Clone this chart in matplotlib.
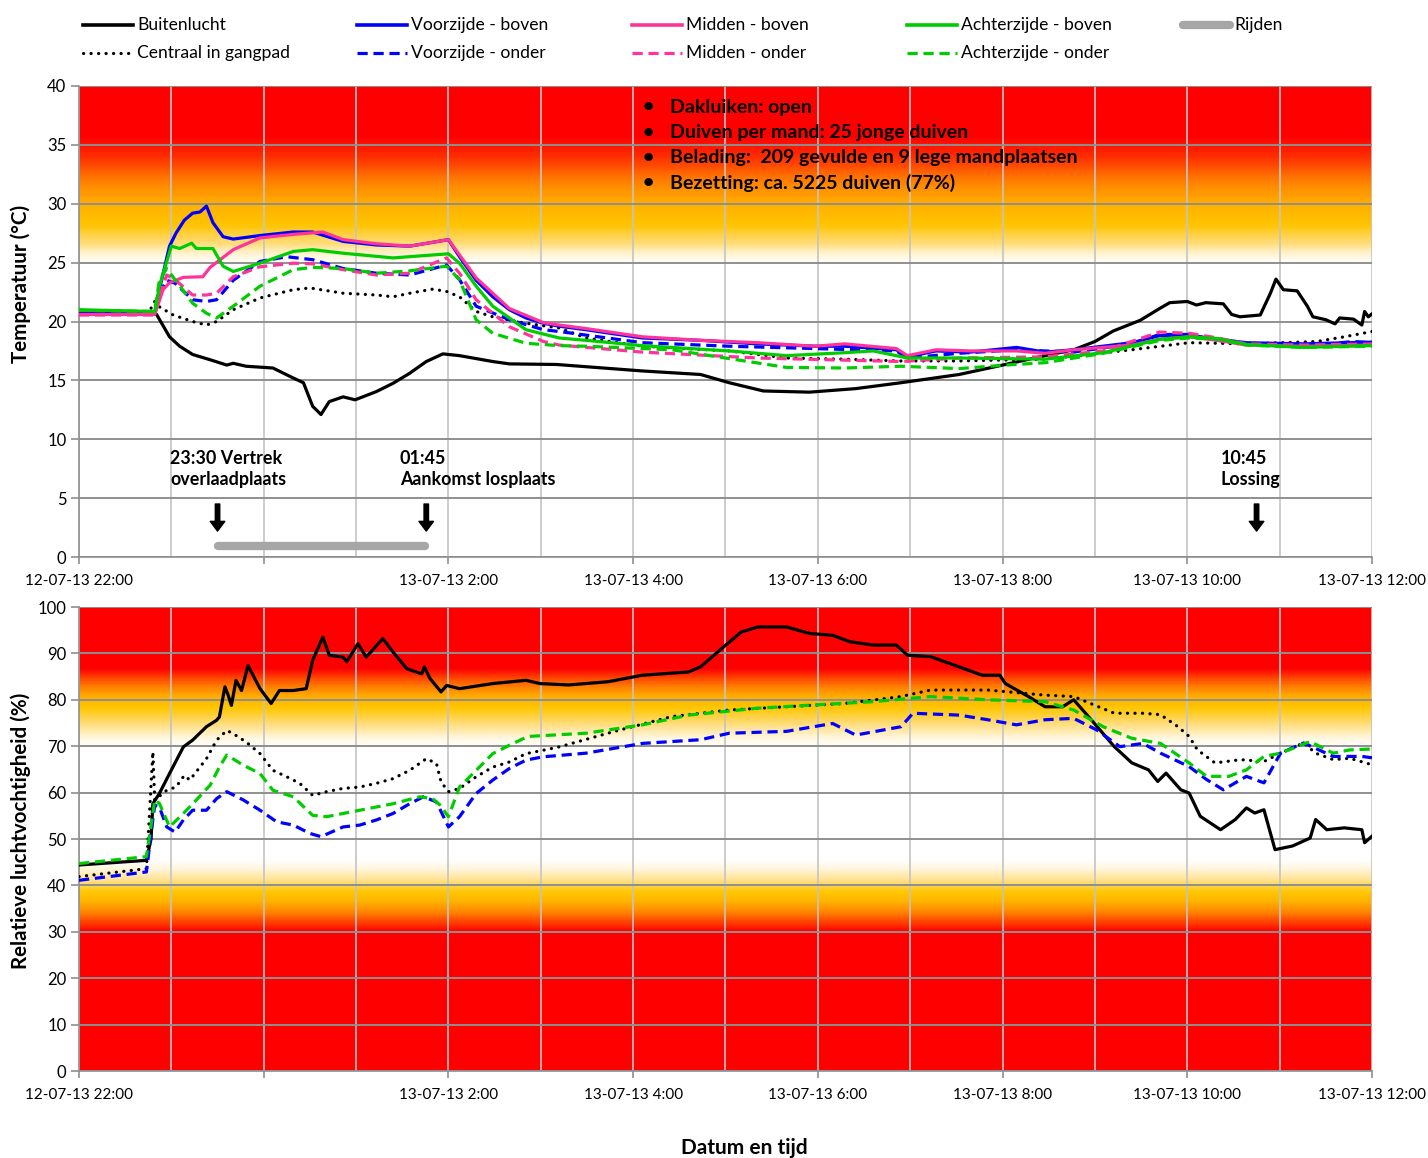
import numpy as np
import matplotlib
matplotlib.use('Agg')
import matplotlib.pyplot as plt
from matplotlib.colors import LinearSegmentedColormap
from matplotlib.lines import Line2D

plt.rcParams['font.family'] = ['Lato', 'DejaVu Sans']

# ---------------- data (x = hours after 12-07-13 22:00) ----------------
xtick_pos = [0, 2, 4, 6, 8, 10, 12, 14]
xtick_labels = ['12-07-13 22:00', '', '13-07-13 2:00', '13-07-13 4:00', '13-07-13 6:00',
                '13-07-13 8:00', '13-07-13 10:00', '13-07-13 12:00']

# Temperature
t_buiten_h = [0, 0.5, 0.84, 0.98, 1.09, 1.23, 1.42, 1.6, 1.67, 1.81, 2.1, 2.32, 2.43, 2.53, 2.62, 2.71,
              2.86, 2.99, 3.22, 3.4, 3.58, 3.76, 3.94, 4.12, 4.48, 4.66, 5.17, 6.1, 6.73, 7.04, 7.41,
              7.91, 8.41, 8.9, 9.53, 10.03, 10.46, 10.77, 11.0, 11.2, 11.49, 11.7, 11.81, 12.0, 12.1,
              12.2, 12.39, 12.48, 12.57, 12.79, 12.9, 12.96, 13.04, 13.19, 13.3, 13.36, 13.5, 13.6,
              13.65, 13.8, 13.89, 13.92, 13.96, 14.0]
t_buiten = [20.7, 20.7, 20.6, 18.7, 17.9, 17.2, 16.75, 16.3, 16.45, 16.2, 16.05, 15.2, 14.8, 12.8, 12.1,
            13.2, 13.6, 13.35, 14.05, 14.75, 15.6, 16.6, 17.25, 17.1, 16.6, 16.4, 16.35, 15.8, 15.5, 14.8,
            14.1, 14.0, 14.3, 14.8, 15.5, 16.35, 17.1, 17.6, 18.3, 19.2, 20.1, 21.1, 21.6, 21.7, 21.4,
            21.6, 21.5, 20.6, 20.4, 20.55, 22.4, 23.6, 22.7, 22.6, 21.3, 20.4, 20.15, 19.8, 20.3, 20.2,
            19.7, 20.85, 20.4, 20.65]

t_centraal_h = [0, 0.75, 0.82, 0.87, 1.02, 1.23, 1.38, 1.49, 1.67, 1.96, 2.32, 2.5, 2.86, 3.22, 3.4, 3.58,
                3.83, 3.98, 4.12, 4.3, 4.48, 4.84, 5.2, 5.49, 6.1, 7.04, 7.66, 8.29, 8.9, 9.53, 10.46,
                11.4, 12.02, 12.64, 13.4, 13.7, 14.0]
t_centraal = [20.7, 20.7, 21.7, 21.25, 20.55, 20.0, 19.7, 20.0, 21.0, 22.0, 22.7, 22.85, 22.4, 22.25, 22.1,
              22.4, 22.75, 22.55, 22.1, 20.85, 20.4, 19.85, 19.45, 18.6, 17.9, 17.5, 16.9, 16.8, 16.65,
              16.65, 16.8, 17.6, 18.2, 18.1, 18.3, 18.7, 19.15]

t_vb_h = [0, 0.82, 0.87, 0.98, 1.05, 1.14, 1.23, 1.31, 1.38, 1.45, 1.56, 1.67, 1.96, 2.32, 2.53, 2.86, 3.22,
          3.58, 4.0, 4.12, 4.3, 4.48, 4.66, 4.84, 5.03, 5.2, 5.49, 6.1, 6.73, 7.35, 7.97, 8.29, 8.85, 8.97,
          9.28, 9.65, 10.15, 10.46, 10.77, 11.4, 11.7, 12.02, 12.33, 12.64, 13.26, 14.0]
t_vb = [20.7, 20.7, 22.7, 26.4, 27.5, 28.6, 29.2, 29.3, 29.8, 28.4, 27.2, 27.0, 27.3, 27.6, 27.6, 26.8, 26.5,
        26.4, 26.95, 25.5, 23.5, 22.1, 21.0, 20.3, 19.85, 19.6, 19.3, 18.6, 18.4, 18.1, 17.9, 17.9, 17.6,
        17.0, 17.5, 17.4, 17.8, 17.4, 17.6, 18.2, 18.8, 18.8, 18.5, 18.2, 18.1, 18.25]

t_vo_h = [0, 0.82, 0.87, 0.95, 1.04, 1.23, 1.38, 1.49, 1.67, 1.96, 2.25, 2.53, 2.86, 3.22, 3.58, 3.98, 4.12,
          4.3, 4.66, 5.03, 5.2, 6.1, 7.04, 7.97, 8.85, 8.97, 9.53, 10.15, 10.77, 11.4, 11.7, 12.02, 12.33,
          12.64, 13.26, 13.8, 14.0]
t_vo = [20.7, 20.7, 22.4, 23.5, 23.25, 21.85, 21.7, 21.85, 23.5, 25.1, 25.5, 25.25, 24.5, 24.1, 23.95, 24.8,
        23.55, 21.3, 20.15, 19.3, 19.15, 18.2, 17.9, 17.7, 17.5, 16.9, 17.3, 17.6, 17.4, 18.1, 18.9, 18.9,
        18.4, 18.1, 17.9, 18.3, 18.2]

t_mb_h = [0, 0.82, 0.91, 0.98, 1.13, 1.34, 1.42, 1.67, 1.96, 2.32, 2.64, 2.86, 3.22, 3.58, 4.0, 4.3, 4.66,
          5.03, 5.2, 5.49, 6.1, 6.73, 7.35, 7.97, 8.29, 8.85, 8.97, 9.28, 9.65, 10.15, 10.46, 10.77, 11.4,
          11.7, 12.02, 12.33, 12.64, 13.26, 14.0]
t_mb = [20.6, 20.6, 22.7, 23.3, 23.75, 23.8, 24.6, 26.1, 27.1, 27.4, 27.6, 26.95, 26.6, 26.4, 26.95, 23.7,
        21.1, 19.9, 19.7, 19.4, 18.7, 18.4, 18.2, 17.9, 18.1, 17.7, 17.1, 17.6, 17.5, 17.5, 17.3, 17.6, 18.0,
        18.5, 18.7, 18.4, 18.0, 17.9, 18.0]

t_mo_h = [0, 0.82, 0.87, 0.95, 1.04, 1.23, 1.38, 1.49, 1.67, 1.96, 2.32, 2.53, 2.86, 3.22, 3.58, 3.98, 4.12,
          4.3, 4.66, 5.03, 5.2, 6.1, 7.35, 8.9, 9.53, 10.46, 11.09, 11.7, 12.02, 12.33, 12.64, 13.26, 14.0]
t_mo = [20.55, 20.55, 22.1, 23.95, 23.55, 22.25, 22.25, 22.4, 23.8, 24.65, 24.95, 24.9, 24.4, 23.95, 24.1,
        25.4, 24.1, 21.85, 19.55, 18.3, 18.0, 17.4, 16.9, 16.6, 16.9, 17.0, 17.5, 19.1, 19.0, 18.6, 18.1,
        18.0, 18.1]

t_ab_h = [0, 0.82, 0.87, 1.0, 1.09, 1.22, 1.27, 1.45, 1.56, 1.67, 1.96, 2.32, 2.53, 2.86, 3.4, 4.0, 4.12,
          4.3, 4.48, 4.84, 5.2, 5.49, 6.1, 7.04, 7.66, 8.29, 8.6, 8.97, 9.53, 10.46, 11.09, 11.71, 12.02,
          12.33, 12.64, 13.26, 14.0]
t_ab = [21.0, 20.85, 23.0, 26.4, 26.2, 26.65, 26.2, 26.2, 24.7, 24.25, 24.95, 25.95, 26.1, 25.8, 25.4, 25.75,
        24.95, 23.0, 21.3, 19.3, 18.6, 18.4, 17.95, 17.5, 17.1, 17.35, 17.5, 16.9, 16.9, 16.8, 17.35, 18.5,
        18.7, 18.55, 18.05, 17.8, 17.95]

t_ao_h = [0, 0.82, 0.87, 0.95, 1.04, 1.23, 1.38, 1.49, 1.67, 1.96, 2.32, 2.53, 2.86, 3.22, 3.58, 3.98, 4.12,
          4.3, 4.48, 4.84, 5.2, 5.49, 6.42, 7.66, 8.29, 8.9, 9.53, 10.03, 10.46, 11.09, 11.71, 12.02, 12.33,
          12.64, 13.26, 14.0]
t_ao = [20.95, 20.85, 23.5, 24.5, 23.55, 21.55, 20.7, 20.3, 21.3, 23.0, 24.4, 24.6, 24.5, 24.1, 24.3, 24.7,
        23.55, 20.15, 19.0, 18.15, 17.95, 17.9, 17.6, 16.1, 16.05, 16.2, 16.0, 16.3, 16.5, 17.3, 18.4, 18.6,
        18.5, 18.0, 17.8, 17.9]

# Rijden (driving period, 23:30 - 01:45)
rijden_h = [1.5, 3.75]
rijden_y = [0.9, 0.9]

# Relative humidity
rh_buiten_h = [0, 0.73, 0.78, 0.8, 0.87, 0.98, 1.13, 1.23, 1.38, 1.49, 1.52, 1.58, 1.61, 1.65, 1.7, 1.76,
               1.83, 1.96, 2.08, 2.17, 2.32, 2.46, 2.53, 2.64, 2.71, 2.86, 2.9, 3.02, 3.11, 3.29, 3.4, 3.55,
               3.71, 3.74, 3.8, 3.92, 3.98, 4.12, 4.48, 4.84, 4.99, 5.3, 5.73, 6.1, 6.6, 6.73, 6.98, 7.17,
               7.35, 7.66, 7.91, 8.16, 8.35, 8.6, 8.85, 8.97, 9.22, 9.53, 9.78, 9.97, 10.03, 10.28, 10.46,
               10.65, 10.77, 10.96, 11.21, 11.4, 11.58, 11.68, 11.77, 11.93, 12.02, 12.14, 12.36, 12.52,
               12.64, 12.73, 12.83, 12.95, 13.14, 13.33, 13.39, 13.51, 13.7, 13.89, 13.92, 14.0]
rh_buiten = [44.4, 45.4, 50.0, 57.6, 59.8, 64.1, 69.85, 71.3, 74.2, 75.6, 76.3, 82.8, 81.3, 78.8, 84.2, 82.0,
             87.4, 82.4, 79.2, 82.0, 82.0, 82.4, 88.5, 93.5, 89.6, 89.2, 88.2, 92.1, 89.2, 93.2, 90.3, 86.7,
             85.6, 87.1, 84.6, 81.7, 83.1, 82.4, 83.5, 84.2, 83.5, 83.2, 83.9, 85.3, 86.0, 87.1, 91.4, 94.6,
             95.7, 95.7, 94.3, 93.9, 92.5, 91.8, 91.8, 89.6, 89.3, 87.1, 85.3, 85.3, 83.5, 80.7, 78.5, 78.5,
             80.0, 75.7, 69.9, 66.4, 64.9, 62.4, 64.2, 60.6, 59.9, 54.9, 52.0, 54.2, 56.7, 55.6, 56.3, 47.7,
             48.5, 50.2, 54.2, 52.0, 52.4, 52.0, 49.2, 50.6]

rh_centraal_h = [0, 0.73, 0.8, 0.82, 0.95, 1.05, 1.14, 1.2, 1.27, 1.38, 1.49, 1.6, 1.67, 1.81, 1.96, 2.1,
                 2.25, 2.39, 2.53, 2.68, 2.86, 3.04, 3.22, 3.4, 3.58, 3.76, 3.87, 3.92, 4.0, 4.12, 4.3, 4.48,
                 4.66, 4.84, 5.02, 5.2, 5.8, 6.42, 7.04, 7.66, 8.29, 8.9, 9.22, 9.84, 10.46, 10.77, 11.21,
                 11.52, 11.71, 11.9, 12.02, 12.11, 12.3, 12.58, 12.83, 13.01, 13.26, 13.39, 13.58, 13.76, 14.0]
rh_centraal = [41.9, 43.6, 68.8, 58.4, 60.5, 61.2, 63.7, 62.7, 64.5, 67.3, 71.3, 73.4, 72.7, 70.9, 68.4, 64.8,
               63.4, 62.0, 59.4, 60.2, 60.9, 61.2, 62.0, 63.0, 64.8, 67.3, 66.3, 62.3, 60.2, 60.9, 63.4, 65.5,
               66.6, 68.4, 69.1, 69.85, 73.2, 76.4, 77.8, 78.5, 79.2, 80.7, 82.1, 82.1, 81.0, 80.7, 77.1,
               77.1, 76.8, 74.2, 72.1, 69.2, 66.4, 67.1, 66.7, 68.5, 70.7, 68.5, 67.1, 67.4, 66.0]

rh_vo_h = [0, 0.73, 0.78, 0.82, 0.87, 0.95, 1.04, 1.13, 1.23, 1.38, 1.49, 1.6, 1.78, 1.96, 2.14, 2.32, 2.5,
           2.62, 2.86, 3.04, 3.22, 3.4, 3.58, 3.73, 3.87, 4.0, 4.12, 4.3, 4.48, 4.66, 4.84, 5.02, 5.49, 6.1,
           6.73, 7.04, 7.66, 8.16, 8.41, 8.9, 9.03, 9.53, 9.84, 10.15, 10.46, 10.77, 11.02, 11.27, 11.52,
           11.71, 12.02, 12.21, 12.39, 12.64, 12.83, 13.01, 13.26, 13.58, 13.89, 14.0]
rh_vo = [41.1, 42.9, 51.2, 57.3, 56.9, 52.6, 51.5, 54.1, 56.2, 56.2, 58.7, 60.2, 58.4, 56.2, 53.7, 53.0, 51.2,
         50.5, 52.6, 53.0, 54.1, 55.5, 57.6, 59.1, 58.0, 52.6, 54.8, 59.8, 62.7, 65.2, 67.0, 67.7, 68.5, 70.6,
         71.4, 72.8, 73.2, 74.9, 72.4, 74.2, 77.1, 76.7, 75.7, 74.6, 75.7, 76.0, 73.5, 69.9, 70.6, 68.5, 65.6,
         62.8, 60.6, 63.5, 62.1, 68.5, 70.7, 67.8, 67.8, 67.5]

rh_ao_h = [0, 0.73, 0.82, 0.87, 0.98, 1.13, 1.27, 1.42, 1.52, 1.6, 1.78, 1.96, 2.1, 2.32, 2.53, 2.68, 3.04,
           3.4, 3.69, 3.83, 3.91, 4.0, 4.12, 4.3, 4.48, 4.66, 4.86, 5.49, 6.1, 6.6, 7.35, 7.97, 8.6, 9.22,
           9.84, 10.46, 10.77, 11.09, 11.4, 11.71, 12.02, 12.21, 12.45, 12.64, 12.83, 13.01, 13.33, 13.58,
           13.76, 14.0]
rh_ao = [44.7, 46.2, 58.4, 57.7, 52.6, 55.5, 58.4, 61.6, 65.5, 68.1, 65.9, 64.1, 60.5, 59.1, 55.1, 54.8, 56.2,
         57.6, 59.1, 58.7, 57.3, 54.8, 61.2, 64.8, 68.4, 70.2, 72.1, 72.8, 74.6, 76.7, 78.2, 78.9, 79.6, 80.7,
         80.0, 79.6, 77.8, 74.2, 71.7, 70.6, 66.4, 63.5, 63.5, 64.9, 67.8, 68.5, 71.0, 68.5, 69.2, 69.4]

# ---------------- figure ----------------
W, H = 1428, 1158
fig = plt.figure(figsize=(W / 100, H / 100), dpi=100)


def px_axes(l, t, r, b):
    return fig.add_axes([l / W, 1 - b / H, (r - l) / W, (b - t) / H])


ax1 = px_axes(79, 86, 1372, 557)
ax2 = px_axes(79, 607, 1372, 1071)

BLACK, BLUE, PINK, GREEN = '#000000', '#0000FF', '#FF3399', '#00CC00'
LW = 2.3
DASH = (3.2, 1.8)
DOT = (0.05, 2.3)


def style(ln, ds):
    if ds is DOT:
        ln.set_dashes(ds)
        ln.set_dash_capstyle('round')
    elif ds is not None:
        ln.set_dashes(ds)


def gradient(ax, stops, vmin, vmax):
    pos = [(v - vmin) / (vmax - vmin) for v, c in stops]
    cmap = LinearSegmentedColormap.from_list('bg', list(zip(pos, [c for v, c in stops])))
    grad = np.linspace(0, 1, 800).reshape(-1, 1)
    ax.imshow(grad, extent=[0, 14, vmin, vmax], origin='lower', aspect='auto',
              cmap=cmap, zorder=0, interpolation='bilinear')


gradient(ax1, [(0, '#FFFFFF'), (25, '#FFFFFF'), (25.8, '#FFF3D0'), (26.7, '#FFDC78'),
               (28.3, '#FFC400'), (30, '#FFB000'), (32, '#FF8000'), (34, '#FF3000'),
               (35.8, '#FF0000'), (40, '#FF0000')], 0, 40)
gradient(ax2, [(0, '#FF0000'), (30, '#FF0000'), (32, '#FF4000'), (34, '#FF8000'), (36.5, '#FFB400'),
               (38.5, '#FFC600'), (41, '#FFE08A'), (43.5, '#FFF6DC'), (45.5, '#FFFFFF'),
               (70, '#FFFFFF'), (72, '#FFF6DC'), (74.5, '#FFE08A'), (78.5, '#FFC600'),
               (80.5, '#FFB400'), (83, '#FF8000'), (85, '#FF4000'), (87, '#FF0000'),
               (100, '#FF0000')], 0, 100)

# temperature series
series_t = [
    (t_buiten_h, t_buiten, BLACK, None),
    (t_centraal_h, t_centraal, BLACK, DOT),
    (t_vb_h, t_vb, BLUE, None),
    (t_vo_h, t_vo, BLUE, DASH),
    (t_mb_h, t_mb, PINK, None),
    (t_mo_h, t_mo, PINK, DASH),
    (t_ab_h, t_ab, GREEN, None),
    (t_ao_h, t_ao, GREEN, DASH),
]
for xs, ys, col, ds in series_t:
    ln, = ax1.plot(xs, ys, color=col, lw=LW, zorder=3)
    style(ln, ds)
ax1.plot(rijden_h, rijden_y, color='#A6A6A6', lw=6, solid_capstyle='round', zorder=3)

series_rh = [
    (rh_buiten_h, rh_buiten, BLACK, None),
    (rh_centraal_h, rh_centraal, BLACK, DOT),
    (rh_vo_h, rh_vo, BLUE, DASH),
    (rh_ao_h, rh_ao, GREEN, DASH),
]
for xs, ys, col, ds in series_rh:
    ln, = ax2.plot(xs, ys, color=col, lw=LW, zorder=3)
    style(ln, ds)

for ax, ymax, ystep in [(ax1, 40, 5), (ax2, 100, 10)]:
    ax.set_xlim(0, 14)
    ax.set_ylim(0, ymax)
    ax.set_xticks(xtick_pos)
    ax.set_xticklabels(xtick_labels)
    ax.set_xticks(np.arange(0, 15, 1), minor=True)
    ax.set_yticks(np.arange(0, ymax + 1, ystep))
    ax.xaxis.grid(True, which='both', color='#C4C4C4', lw=1.2)
    ax.yaxis.grid(True, color='#8F8F8F', lw=1.4)
    ax.set_axisbelow(True)
    for s in ['top', 'right']:
        ax.spines[s].set_visible(False)
    for s in ['left', 'bottom']:
        ax.spines[s].set_color('#8F8F8F')
        ax.spines[s].set_linewidth(1.2)
    ax.tick_params(axis='y', which='major', length=6, width=1.2, color='#8F8F8F', pad=3,
                   labelsize=12, direction='out')
    ax.tick_params(axis='x', which='major', length=5, width=1.2, color='#8F8F8F', pad=7,
                   labelsize=11, direction='out')
    ax.tick_params(axis='x', which='minor', length=0)

# annotations in temperature chart
for h, txt in [(0.985, '23:30 Vertrek\noverlaadplaats'), (3.475, '01:45\nAankomst losplaats'),
               (12.365, '10:45\nLossing')]:
    ax1.text(h, 7.45, txt, ha='left', va='center', fontsize=12.9, fontweight='bold', linespacing=1.3,
             zorder=5)
for h in [1.5, 3.76, 12.75]:
    ax1.annotate('', xy=(h, 2.2), xytext=(h, 4.5),
                 arrowprops=dict(facecolor='black', edgecolor='black', width=3.2, headwidth=10.5,
                                 headlength=7, shrink=0), zorder=5)

info_lines = ['Dakluiken: open', 'Duiven per mand: 25 jonge duiven',
              'Belading:  209 gevulde en 9 lege mandplaatsen', 'Bezetting: ca. 5225 duiven (77%)']
for i, line in enumerate(info_lines):
    y = 1 - (107 + 25.3 * i) / H
    fig.text(648 / W, y, '\u2022', ha='center', va='center', fontsize=14, fontweight='bold')
    fig.text(670 / W, y, line, ha='left', va='center', fontsize=14, fontweight='bold')

# axis titles
fig.text(21 / W, 1 - 284 / H, 'Temperatuur (°C)', rotation=90, ha='center', va='center',
         fontsize=14.8, fontweight='bold')
fig.text(21 / W, 1 - 831 / H, 'Relatieve luchtvochtigheid (%)', rotation=90, ha='center', va='center',
         fontsize=14.8, fontweight='bold')
fig.text(744 / W, 1 - 1148 / H, 'Datum en tijd', ha='center', va='center', fontsize=15,
         fontweight='bold')

# legend (manual, Excel style grid)
legend_items = [
    ('Buitenlucht', BLACK, None, LW + 0.3, 0, 0),
    ('Voorzijde - boven', BLUE, None, LW + 0.3, 1, 0),
    ('Midden - boven', PINK, None, LW + 0.3, 2, 0),
    ('Achterzijde - boven', GREEN, None, LW + 0.3, 3, 0),
    ('Rijden', '#A6A6A6', None, 6, 4, 0),
    ('Centraal in gangpad', BLACK, DOT, LW, 0, 1),
    ('Voorzijde - onder', BLUE, DASH, LW, 1, 1),
    ('Midden - onder', PINK, DASH, LW, 2, 1),
    ('Achterzijde - onder', GREEN, DASH, LW, 3, 1),
]
col_x = [83, 357, 632, 907, 1183]
row_y = [25, 53]
for label, col, ds, lw, c, r in legend_items:
    x0 = col_x[c]
    x1 = x0 + (47 if c == 4 else 50)
    y = 1 - row_y[r] / H
    kw = dict(solid_capstyle='round') if c == 4 else {}
    ln = Line2D([x0 / W, x1 / W], [y, y], transform=fig.transFigure, color=col, lw=lw, **kw)
    style(ln, ds)
    fig.add_artist(ln)
    fig.text((x1 + 4) / W, y, label, ha='left', va='center', fontsize=12.6)

fig.savefig('out.png', dpi=100)
